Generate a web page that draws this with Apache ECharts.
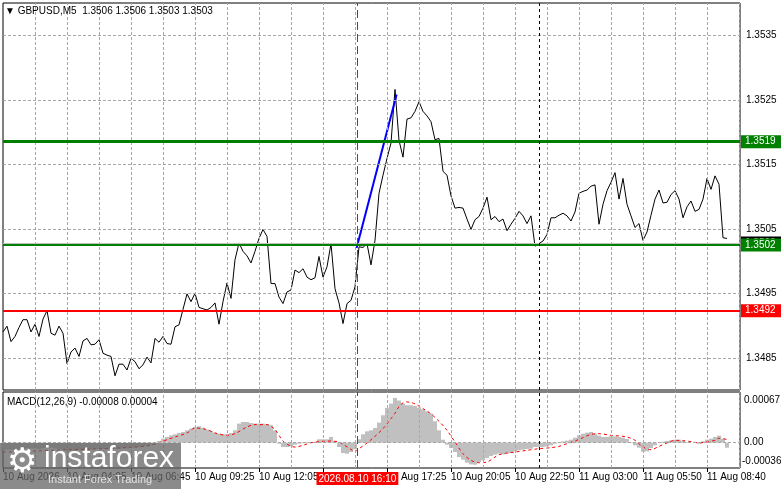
<!DOCTYPE html>
<html><head><meta charset="utf-8">
<script src="https://cdn.jsdelivr.net/npm/echarts@6/dist/echarts.min.js"></script>
<style>html,body{margin:0;padding:0;background:#fff}#c{width:781px;height:489px}</style>
</head><body><div id="c"></div>
<script>
// ---- data (bar index k = one point every two M5 bars) ----
const closes = [
 1.34890,1.34899,1.34875,1.34883,1.34897,1.34909,1.34909,1.34890,1.34902,1.34883,
 1.34910,1.34923,1.34888,1.34885,1.34899,1.34888,1.34841,1.34859,1.34865,1.34852,
 1.34876,1.34880,1.34870,1.34871,1.34878,1.34857,1.34854,1.34852,1.34822,1.34840,
 1.34840,1.34831,1.34849,1.34844,1.34833,1.34839,1.34851,1.34842,1.34880,1.34874,
 1.34883,1.34872,1.34871,1.34898,1.34901,1.34925,1.34949,1.34937,1.34950,1.34928,
 1.34926,1.34924,1.34928,1.34935,1.34902,1.34937,1.34966,1.34942,1.35002,1.35028,
 1.35015,1.35008,1.34997,1.35015,1.35035,1.35049,1.35038,1.34965,1.34965,1.34944,
 1.34934,1.34952,1.34955,1.34986,1.34982,1.34988,1.34975,1.34971,1.34974,1.35007,
 1.34975,1.34991,1.35027,1.34957,1.34935,1.34903,1.34934,1.34939,1.34960,1.35022,
 1.35021,1.35027,1.34994,1.35032,1.35105,1.35133,1.35159,1.35183,1.35266,1.35187,
 1.35161,1.35220,1.35222,1.35232,1.35247,1.35232,1.35225,1.35216,1.35188,1.35190,
 1.35139,1.35133,1.35101,1.35082,1.35083,1.35082,1.35065,1.35049,1.35064,1.35069,
 1.35082,1.35099,1.35064,1.35069,1.35061,1.35065,1.35047,1.35057,1.35066,1.35077,
 1.35070,1.35058,1.35070,1.35023,1.35027,1.35031,1.35041,1.35067,1.35067,1.35071,
 1.35074,1.35070,1.35062,1.35076,1.35105,1.35108,1.35110,1.35116,1.35118,1.35057,
 1.35088,1.35109,1.35122,1.35137,1.35096,1.35128,1.35088,1.35070,1.35052,1.35058,
 1.35032,1.35045,1.35071,1.35096,1.35110,1.35090,1.35091,1.35103,1.35109,1.35096,
 1.35067,1.35084,1.35093,1.35077,1.35080,1.35096,1.35128,1.35111,1.35132,1.35119,
 1.35036,1.35035];

const macdHist = [
 -0.00012,-0.00011,-0.00011,-0.00012,-0.00011,-0.00010,-0.00009,-0.00009,-0.00009,-0.00010,
 -0.00009,-0.00008,-0.00008,-0.00009,-0.00010,-0.00011,-0.00012,-0.00012,-0.00013,-0.00012,
 -0.00012,-0.00011,-0.00011,-0.00010,-0.00010,-0.00010,-0.00010,-0.00009,-0.00010,-0.00010,
 -0.00009,-0.00009,-0.00008,-0.00008,-0.00007,-0.00006,-0.00005,-0.00003,-0.00001,0.000026,
 0.000063,0.00009,0.000116,0.000132,0.000153,0.000169,0.000195,0.000222,0.000248,0.000259,
 0.000237,0.000206,0.000185,0.000158,0.000142,0.000132,0.000132,0.000153,0.000195,0.000301,
 0.000327,0.000327,0.000311,0.000301,0.000301,0.000301,0.00029,0.000274,0.000195,-0.000016,
 -0.000069,-0.000069,-0.000058,-0.000032,-0.000016,0.000011,0.000011,0.000011,0.000011,0.000053,
 0.000053,0.000053,0.00009,0.000021,-0.000069,-0.000164,-0.000174,-0.000148,-0.000106,0.000053,
 0.000132,0.000179,0.000195,0.000232,0.000317,0.000433,0.000549,0.000617,0.000707,0.000665,
 0.000617,0.000591,0.000591,0.00058,0.000554,0.000528,0.000496,0.000459,0.000338,0.000195,
 0.000047,-0.000032,-0.000084,-0.000148,-0.000227,-0.000269,-0.000317,-0.000343,-0.000348,-0.000306,
 -0.00028,-0.000243,-0.000211,-0.00019,-0.000174,-0.000185,-0.000174,-0.000164,-0.000137,-0.000121,
 -0.000111,-0.0001,-0.000095,-0.000069,-0.000069,-0.000069,-0.000058,-0.000042,-0.000016,0.000005,
 0.000021,0.000032,0.000047,0.000079,0.000116,0.000142,0.000158,0.000169,0.000142,0.000111,
 0.00009,0.00009,0.0001,0.0001,0.00009,0.000079,0.000058,0.000011,-0.000042,-0.000079,
 -0.000142,-0.000137,-0.000084,-0.000042,0,0.000016,0.000026,0.000037,0.000047,0.000047,
 0.000026,0.000011,0,-0.000005,-0.000016,0.000021,0.000047,0.000063,0.00009,0.000111,
 0.000063,-0.00008];

const signalIdx = [0,8,16,25,33,37,39,41,43,46,48,51,53,56,58,61,63,66,68,70,
 72,73,75,77,80,82,84,85,87,88,89,91,93,95,97,98,99,100,101,102,
 103,105,107,109,111,113,115,117,119,121,123,124,126,128,131,134,137,139,141,143,
 145,147,149,152,154,156,158,160,162,164,166,168,170,172,174,176,178,179,181];
const signalVal = [-0.000148,-0.000132,-0.000111,-0.000095,-0.000069,-0.000042,0,0.000047,0.00009,0.000153,
 0.000232,0.000206,0.000153,0.000116,0.000142,0.000248,0.000285,0.000285,0.000206,0.000026,
 -0.000058,-0.000069,-0.000042,0,0.000021,0.000026,0.000011,-0.000026,-0.000106,-0.000137,
 -0.000095,-0.000005,0.0001,0.000222,0.00038,0.000464,0.00057,0.000628,0.000644,0.000633,
 0.000612,0.000538,0.000454,0.000338,0.000195,0.000011,-0.000174,-0.00028,-0.000317,-0.000306,
 -0.000227,-0.00019,-0.000164,-0.000148,-0.000121,-0.000095,-0.000079,-0.000058,-0.000016,0.000026,
 0.000079,0.000132,0.000142,0.000116,0.000106,0.00009,0.000037,-0.000069,-0.000111,-0.000058,
 -0.000005,0.000037,0.000032,0.000016,-0.000005,0.000011,0.000037,0.00007,0.00005];

const timeTickIdx = [0,16,32,48,64,80,96,112,128,144,160,176];
const timeTickLabels = ['10 Aug 2026','10 Aug 04:05','10 Aug 06:45','10 Aug 09:25','10 Aug 12:05','10 Aug 14:45',
  '10 Aug 17:25','10 Aug 20:05','10 Aug 22:50','11 Aug 03:00','11 Aug 05:50','11 Aug 08:40'];

const priceTickVals = [1.3485,1.3495,1.3505,1.3515,1.3525,1.3535];
const priceTickLabels = ['1.3485','1.3495','1.3505','1.3515','1.3525','1.3535'];

const upperLevel = 1.35185, upperLevelLabel = '1.3519';
const lowerLevel = 1.35025, lowerLevelLabel = '1.3502';
const supportLevel = 1.34923, supportLevelLabel = '1.3492';
const lastPrice = 1.35028, lastPriceLabel = '1.3503';

const trendLine = [[88.4, 1.35020], [98.4, 1.35258]];
const crossIdx = 88.6, crossLabel = '2026.08.10 16:10';
const daySepIdx = 134;

const macdTickVals = [0.00067, -0.00036];
const macdTickLabels = ['0.00067', '-0.00036'];

const symbolTitle = 'GBPUSD,M5  1.3506 1.3506 1.3503 1.3503';
const macdTitle = 'MACD(12,26,9) -0.00008 0.00004';

// ---- chart ----
const FONT = "'Liberation Sans', Arial, sans-serif";
const FS = 10;
const XMAX = 184.25;
const GRID_STEP = 8;
const chart = echarts.init(document.getElementById('c'), null, {renderer: 'canvas'});

const gridLineStyle = {color: '#a8a8a8', type: [3, 2], width: 1};
const noLabel = {show: false};

// vertical grid positions on the time axis (every GRID_STEP units)
const vGrid = [];
for (let k = GRID_STEP; k < XMAX; k += GRID_STEP) vGrid.push(k);

const mainMarks = [];
vGrid.forEach(k => mainMarks.push({xAxis: k, lineStyle: gridLineStyle, label: noLabel}));
priceTickVals.forEach((v, i) => mainMarks.push({
  yAxis: v, lineStyle: gridLineStyle,
  label: {show: true, position: 'end', distance: 6, formatter: priceTickLabels[i], color: '#000', fontSize: FS, fontFamily: FONT}
}));
const boxLabel = (txt, bg) => ({show: true, position: 'end', distance: 1, formatter: txt, color: '#fff', backgroundColor: bg,
  padding: [2, 6, 1, 4], fontSize: FS, fontFamily: FONT});
mainMarks.push({yAxis: lastPrice, lineStyle: {color: '#c0c0c0', width: 1, type: 'solid'}, label: boxLabel(lastPriceLabel, '#000')});
mainMarks.push({yAxis: upperLevel, lineStyle: {color: '#008000', width: 3, type: 'solid'}, label: boxLabel(upperLevelLabel, '#008000')});
mainMarks.push({yAxis: lowerLevel, lineStyle: {color: '#008000', width: 2, type: 'solid'}, label: boxLabel(lowerLevelLabel, '#008000')});
mainMarks.push({yAxis: supportLevel, lineStyle: {color: '#ff0000', width: 2, type: 'solid'}, label: boxLabel(supportLevelLabel, '#ff0000')});
mainMarks.push({xAxis: crossIdx, lineStyle: {color: '#ff0000', width: 1, type: [8, 4]}, label: noLabel});
mainMarks.push({xAxis: daySepIdx, lineStyle: {color: '#000', width: 1, type: [3, 3]}, label: noLabel});

const macdMarks = [];
vGrid.forEach(k => macdMarks.push({xAxis: k, lineStyle: gridLineStyle, label: noLabel}));
macdMarks.push({yAxis: 0, lineStyle: gridLineStyle, label: {show: true, position: 'end', distance: 4, formatter: '0.00', color: '#000', fontSize: FS, fontFamily: FONT}});
macdMarks.push({yAxis: macdTickVals[0], lineStyle: {color: 'rgba(0,0,0,0)', width: 0},
  label: {show: true, position: 'end', distance: 4, formatter: macdTickLabels[0], color: '#000', fontSize: FS, fontFamily: FONT}});
macdMarks.push({yAxis: macdTickVals[1], lineStyle: {color: 'rgba(0,0,0,0)', width: 0},
  label: {show: true, position: 'end', distance: 2, offset: [0, -4], formatter: macdTickLabels[1], color: '#000', fontSize: FS, fontFamily: FONT}});
macdMarks.push({xAxis: daySepIdx, lineStyle: {color: '#000', width: 1, type: [3, 3]}, label: noLabel});
macdMarks.push({xAxis: crossIdx, lineStyle: {color: '#ff0000', width: 1, type: [8, 4]},
  label: {show: true, position: 'start', distance: 4, formatter: crossLabel, color: '#fff', backgroundColor: '#ff0000', padding: [2, 2, 1, 2], fontSize: FS, fontFamily: FONT}});

const hiddenAxis = {axisLine: {show: false}, axisTick: {show: false}, axisLabel: {show: false}, splitLine: {show: false}};

const option = {
  animation: false,
  backgroundColor: '#fff',
  textStyle: {fontFamily: FONT},
  title: [
    {text: '▼ ' + symbolTitle, left: 5, top: 6, padding: 0, textStyle: {fontSize: FS, fontWeight: 'normal', color: '#000', fontFamily: FONT}},
    {text: macdTitle, left: 7, top: 397, padding: 0, textStyle: {fontSize: FS, fontWeight: 'normal', color: '#000', fontFamily: FONT}}
  ],
  grid: [
    {left: 3, top: 3, width: 737, height: 387, show: true, borderColor: '#000', borderWidth: 1, backgroundColor: 'transparent'},
    {left: 3, top: 392, width: 737, height: 76, show: true, borderColor: '#000', borderWidth: 1, backgroundColor: 'transparent'}
  ],
  xAxis: [
    Object.assign({}, hiddenAxis, {type: 'value', gridIndex: 0, min: 0, max: XMAX}),
    Object.assign({}, hiddenAxis, {type: 'value', gridIndex: 1, min: 0, max: XMAX}),
    {type: 'value', gridIndex: 1, min: 0, max: XMAX, interval: 16, position: 'bottom',
     axisLine: {show: false}, splitLine: {show: false},
     axisTick: {show: true, length: 4, lineStyle: {color: '#000'}},
     axisLabel: {show: true, align: 'left', margin: 4, fontSize: FS, color: '#000', fontFamily: FONT, showMaxLabel: false,
       formatter: v => { const i = timeTickIdx.indexOf(v); return i >= 0 ? timeTickLabels[i] : ''; }}}
  ],
  yAxis: [
    Object.assign({}, hiddenAxis, {type: 'value', gridIndex: 0, position: 'right', min: 1.3480, max: 1.3540}),
    Object.assign({}, hiddenAxis, {type: 'value', gridIndex: 1, position: 'right', min: -0.0004, max: 0.0008})
  ],
  series: [
    {type: 'line', name: 'close', xAxisIndex: 0, yAxisIndex: 0, data: closes.map((v, i) => [i, v]),
     showSymbol: false, lineStyle: {color: '#000', width: 1}, z: 3,
     markLine: {silent: true, precision: 6, symbol: ['none', 'none'], animation: false, data: mainMarks}},
    {type: 'line', name: 'trend', xAxisIndex: 0, yAxisIndex: 0, data: trendLine,
     showSymbol: false, lineStyle: {color: '#0000ff', width: 2}, z: 4},
    {type: 'bar', name: 'macd', xAxisIndex: 1, yAxisIndex: 1, data: macdHist.map((v, i) => [i, v]),
     barWidth: 4, itemStyle: {color: '#c0c0c0'}, z: 2,
     markLine: {silent: true, precision: 6, symbol: ['none', 'none'], animation: false, data: macdMarks}},
    {type: 'line', name: 'signal', xAxisIndex: 1, yAxisIndex: 1, data: signalIdx.map((k, i) => [k, signalVal[i]]),
     showSymbol: false, smooth: 0.3, lineStyle: {color: '#ff0000', width: 1, type: [3, 3]}, z: 4}
  ],
  graphic: [
    {type: 'rect', left: 0, top: 443, z: 100, shape: {width: 181, height: 46}, style: {fill: 'rgba(100,100,100,0.75)'}},
    {type: 'text', left: 7, top: 446, z: 101, style: {text: '⚙', fontSize: 34, fill: '#fff', fontFamily: "'DejaVu Sans'"}},
    {type: 'text', left: 44, top: 444, z: 101, style: {text: 'instaforex', fontSize: 30, fill: '#fff', fontFamily: FONT}},
    {type: 'text', left: 48, top: 474, z: 101, style: {text: 'Instant Forex Trading', fontSize: 11, fill: '#e4e4e4', fontFamily: FONT}}
  ]
};
chart.setOption(option);
</script></body></html>
